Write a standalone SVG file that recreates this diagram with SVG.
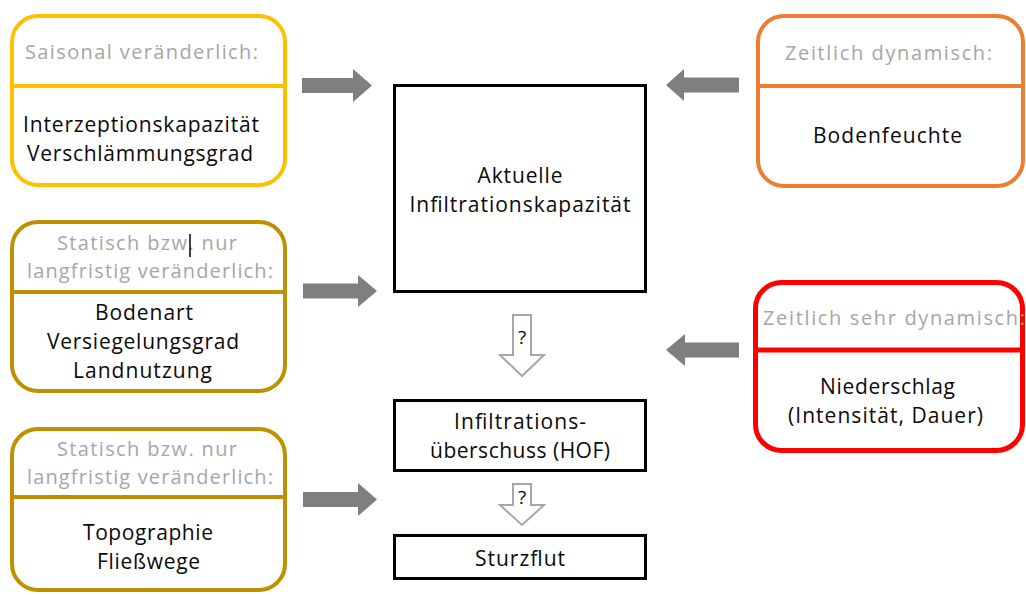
<svg xmlns="http://www.w3.org/2000/svg" width="1026" height="595" viewBox="0 0 1026 595">
<style>
.hd{font-family:"Open Sans","Liberation Sans",sans-serif;font-size:20px;fill:#a6a6a6;text-anchor:middle}
.bd{font-family:"Open Sans","Liberation Sans",sans-serif;font-size:21px;fill:#0a0a0a;text-anchor:middle}
.q{font-family:"Open Sans","Liberation Sans",sans-serif;font-size:19px;fill:#0a0a0a;text-anchor:middle}
.frame{fill:#fff;stroke-width:4}
.y{stroke:#ffc000}
.g{stroke:#bf9000}
.o{stroke:#ed7d31}
.r{stroke:#ff0000;stroke-width:5}
.box{fill:#fff;stroke:#000;stroke-width:3}
.ga{fill:#7f7f7f}
.ha{fill:#fff;stroke:#a6a6a6;stroke-width:2;stroke-linejoin:miter}
</style>
<rect width="1026" height="595" fill="#fff"/>

<g id="saisonal">
<rect class="frame y" x="12" y="16" width="273" height="169" rx="26"/>
<line class="y" x1="12" y1="86" x2="285" y2="86" stroke-width="4"/>
<text class="hd" x="141.5" y="59" textLength="233">Saisonal veränderlich:</text>
<text class="bd" x="141" y="132" textLength="236">Interzeptionskapazität</text>
<text class="bd" x="140" y="161" textLength="226">Verschlämmungsgrad</text>
</g>

<g id="statisch1">
<rect class="frame g" x="12" y="222" width="273" height="169" rx="26"/>
<line class="g" x1="12" y1="292" x2="285" y2="292" stroke-width="4"/>
<text class="hd" x="147" y="250" textLength="180">Statisch bzw. nur</text>
<line x1="190" y1="234" x2="190" y2="257" stroke="#000" stroke-width="1.5"/>
<text class="hd" x="150" y="278" textLength="246">langfristig veränderlich:</text>
<text class="bd" x="144" y="320" textLength="98">Bodenart</text>
<text class="bd" x="143" y="349" textLength="192">Versiegelungsgrad</text>
<text class="bd" x="142.5" y="378" textLength="139">Landnutzung</text>
</g>

<g id="statisch2">
<rect class="frame g" x="12" y="429" width="273" height="161" rx="26"/>
<line class="g" x1="12" y1="497" x2="285" y2="497" stroke-width="4"/>
<text class="hd" x="147" y="456" textLength="180">Statisch bzw. nur</text>
<text class="hd" x="150" y="484" textLength="246">langfristig veränderlich:</text>
<text class="bd" x="148" y="540" textLength="130">Topographie</text>
<text class="bd" x="148.5" y="569" textLength="103">Fließwege</text>
</g>

<g id="zeitlich">
<rect class="frame o" x="758" y="16" width="265" height="170" rx="26"/>
<line class="o" x1="758" y1="86" x2="1023" y2="86" stroke-width="4"/>
<text class="hd" x="888.5" y="60" textLength="207">Zeitlich dynamisch:</text>
<text class="bd" x="887.5" y="143" textLength="149">Bodenfeuchte</text>
</g>

<g id="sehrdynamisch">
<rect class="frame r" x="755.5" y="282.5" width="267" height="168" rx="26"/>
<line class="r" x1="755.5" y1="350" x2="1022.5" y2="350"/>
<text class="hd" x="894" y="325" textLength="262">Zeitlich sehr dynamisch:</text>
<text class="bd" x="887.5" y="394" textLength="135">Niederschlag</text>
<text class="bd" x="885.5" y="423" textLength="195">(Intensität, Dauer)</text>
</g>

<g id="kapazitaet">
<rect class="box" x="394.5" y="85.5" width="251" height="206"/>
<text class="bd" x="520" y="183" textLength="85">Aktuelle</text>
<text class="bd" x="520" y="212" textLength="221">Infiltrationskapazität</text>
</g>

<g id="hof">
<rect class="box" x="394.5" y="400.5" width="251" height="70"/>
<text class="bd" x="520" y="429" textLength="132">Infiltrations-</text>
<text class="bd" x="520" y="458" textLength="180">überschuss (HOF)</text>
</g>

<g id="sturzflut">
<rect class="box" x="394.5" y="535.5" width="251" height="43"/>
<text class="bd" x="520" y="566" textLength="90">Sturzflut</text>
</g>

<g id="connectors">
<polygon class="ga" points="302,78 353,78 353,69 372,85.5 353,102 353,93 302,93"/>
<polygon class="ga" points="303,283.5 358,283.5 358,275 377,291 358,307 358,298.5 303,298.5"/>
<polygon class="ga" points="303,492 358,492 358,483 377,499.5 358,516 358,507 303,507"/>
<polygon class="ga" points="739,77.5 684,77.5 684,69 666,85 684,101 684,92.5 739,92.5"/>
<polygon class="ga" points="739,342.5 685,342.5 685,334 666,350 685,366 685,357.5 739,357.5"/>
<polygon class="ha" points="513,315 531,315 531,355 544,355 522,376 500,355 513,355"/>
<text class="q" x="522" y="344">?</text>
<polygon class="ha" points="513,484 531,484 531,505 544,505 522,525 500,505 513,505"/>
<text class="q" x="522" y="504">?</text>
</g>
</svg>
